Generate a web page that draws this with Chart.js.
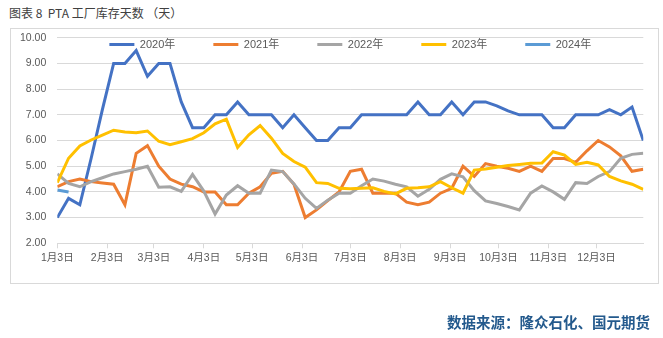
<!DOCTYPE html>
<html>
<head>
<meta charset="utf-8">
<script src="https://cdn.jsdelivr.net/npm/chart.js@4/dist/chart.umd.min.js"></script>
<style>
  html, body { margin: 0; padding: 0; background: #ffffff; }
  body { width: 663px; height: 338px; position: relative; overflow: hidden; }
  #title {
    position: absolute; left: 9px; top: 4px;
    font-family: "Noto Sans CJK SC", sans-serif; font-size: 12px; color: #404040;
    white-space: pre;
  }
  #frame {
    position: absolute; left: 10px; top: 28px; width: 649px; height: 256px;
    border: 1px solid #D9D9D9; box-sizing: border-box;
  }
  #chart { position: absolute; left: 0; top: 0; }
  #source {
    position: absolute; right: 13px; top: 311px;
    font-family: "Noto Sans CJK SC", sans-serif; font-size: 14.5px; font-weight: bold;
    color: #245A8D; white-space: pre;
  }
</style>
</head>
<body>
<div id="title">图表 8  PTA 工厂库存天数 （天）</div>
<div id="frame"></div>
<canvas id="chart" width="663" height="338"></canvas>
<div id="source">数据来源：隆众石化、国元期货</div>
<script>
// Series names
const years = ['2020年', '2021年', '2022年', '2023年', '2024年'];

// Month ticks: day offset from Jan 3 and their labels
const monthTickDays = [0, 31, 60, 91, 121, 152, 182, 213, 244, 274, 305, 335];
const monthTickLabels = ['1月3日', '2月3日', '3月3日', '4月3日', '5月3日', '6月3日',
                         '7月3日', '8月3日', '9月3日', '10月3日', '11月3日', '12月3日'];

// Weekly inventory days (one value per week, starting at Jan 3)
const days2020 = [3.0, 3.75, 3.5, 5.3, 7.2, 9.0, 9.0, 9.5, 8.5, 9.0, 9.0, 7.5, 6.5, 6.5,
                  7.0, 7.0, 7.5, 7.0, 7.0, 7.0, 6.5, 7.0, 6.5, 6.0, 6.0, 6.5, 6.5, 7.0,
                  7.0, 7.0, 7.0, 7.0, 7.5, 7.0, 7.0, 7.5, 7.0, 7.5, 7.5, 7.35, 7.15, 7.0,
                  7.0, 7.0, 6.5, 6.5, 7.0, 7.0, 7.0, 7.2, 7.0, 7.3, 6.0];
const days2021 = [4.2, 4.4, 4.5, 4.4, 4.35, 4.3, 3.5, 5.5, 5.8, 5.0, 4.5, 4.3, 4.2, 4.0,
                  4.0, 3.5, 3.5, 3.95, 4.2, 4.72, 4.8, 4.3, 3.0, 3.3, 3.66, 4.0, 4.8, 4.88,
                  3.95, 3.95, 3.95, 3.6, 3.5, 3.6, 3.95, 4.14, 5.0, 4.6, 5.1, 5.0, 4.92, 4.8,
                  5.0, 4.8, 5.3, 5.3, 5.15, 5.6, 6.0, 5.75, 5.4, 4.8, 4.88];
const days2022 = [4.7, 4.33, 4.2, 4.4, 4.55, 4.7, 4.79, 4.88, 5.0, 4.18, 4.2, 4.02, 4.68,
                  4.03, 3.14, 3.88, 4.24, 3.95, 3.95, 4.85, 4.79, 4.31, 3.75, 3.36, 3.68,
                  3.95, 3.95, 4.24, 4.5, 4.42, 4.3, 4.2, 3.83, 4.1, 4.49, 4.7, 4.59, 4.05,
                  3.65, 3.55, 3.43, 3.3, 3.95, 4.23, 4.0, 3.71, 4.36, 4.33, 4.6, 4.79, 5.31,
                  5.46, 5.5];
const days2023 = [4.36, 5.31, 5.79, 6.02, 6.21, 6.4, 6.33, 6.3, 6.37, 5.97, 5.84, 5.95,
                  6.07, 6.3, 6.65, 6.83, 5.73, 6.22, 6.58, 6.09, 5.5, 5.18, 4.96, 4.36,
                  4.33, 4.14, 4.12, 4.14, 4.16, 4.02, 3.92, 4.14, 4.16, 4.2, 4.4, 4.16,
                  3.95, 4.85, 4.89, 4.96, 5.03, 5.07, 5.11, 5.12, 5.56, 5.43, 5.07, 5.15,
                  5.05, 4.6, 4.43, 4.3, 4.1];
const days2024 = [4.07, 4.0];

const seriesValues = [days2020, days2021, days2022, days2023, days2024];
const seriesColors = ['#4472C4', '#ED7D31', '#A5A5A5', '#FFC000', '#5B9BD5'];

const LABEL_FONT = '"Liberation Sans", "Noto Sans CJK SC", sans-serif';
const TEXT_GREY = '#595959';
const GRID_GREY = '#D9D9D9';
const LEGEND_BAND = 36.7;

// Reserves a fixed band for the legend in the layout, then lets it draw
// its row slightly inside the top of the plot
const legendBand = {
  id: 'legendBand',
  beforeLayout(chart) {
    const lg = chart.legend;
    if (lg && !lg.__banded) {
      const fit = lg.fit.bind(lg);
      lg.fit = function () { fit(); this.height = LEGEND_BAND; };
      lg.__banded = true;
    }
  },
  afterLayout(chart) {
    const lg = chart.legend;
    if (lg) {
      lg.height = 60;
      lg.bottom = lg.top + 60;
    }
  }
};

const datasets = seriesValues.map((vals, s) => ({
  label: years[s],
  data: vals.map((v, i) => ({ x: i * 7, y: v })),
  borderColor: seriesColors[s],
  backgroundColor: seriesColors[s],
  borderWidth: 3,
  pointRadius: 0,
  pointHoverRadius: 0,
  tension: 0,
  fill: false,
  order: seriesValues.length - 1 - s
}));

new Chart(document.getElementById('chart'), {
  type: 'line',
  data: { datasets },
  plugins: [legendBand],
  options: {
    responsive: false,
    animation: false,
    devicePixelRatio: 1,
    layout: { padding: { top: 1, left: 0, right: 19.7, bottom: 74.7 } },
    plugins: {
      tooltip: { enabled: false },
      legend: {
        position: 'top',
        fullSize: false,
        align: 'center',
        labels: {
          usePointStyle: true,
          pointStyle: 'line',
          pointStyleWidth: 25,
          padding: 38,
          color: TEXT_GREY,
          font: { family: LABEL_FONT, size: 11 },
          sort: (a, b) => a.datasetIndex - b.datasetIndex
        }
      }
    },
    scales: {
      x: {
        type: 'linear',
        min: 0,
        max: 364,
        afterFit(scale) { scale.height = 20; },
        afterBuildTicks(scale) { scale.ticks = monthTickDays.map(v => ({ value: v })); },
        ticks: {
          autoSkip: false,
          maxRotation: 0,
          padding: 4,
          color: TEXT_GREY,
          font: { family: LABEL_FONT, size: 10.5 },
          callback: (value) => monthTickLabels[monthTickDays.indexOf(value)]
        },
        grid: { display: true, drawOnChartArea: false, drawTicks: true, tickLength: 5, color: GRID_GREY },
        border: { display: true, color: GRID_GREY, width: 1 }
      },
      y: {
        min: 2,
        max: 10,
        afterFit(scale) { scale.width = 57.3; },
        ticks: {
          stepSize: 1,
          padding: 11,
          color: TEXT_GREY,
          font: { family: LABEL_FONT, size: 10.5 },
          callback: (v) => Number(v).toFixed(2)
        },
        grid: { color: GRID_GREY, drawTicks: false },
        border: { display: false }
      }
    }
  }
});
</script>
</body>
</html>
